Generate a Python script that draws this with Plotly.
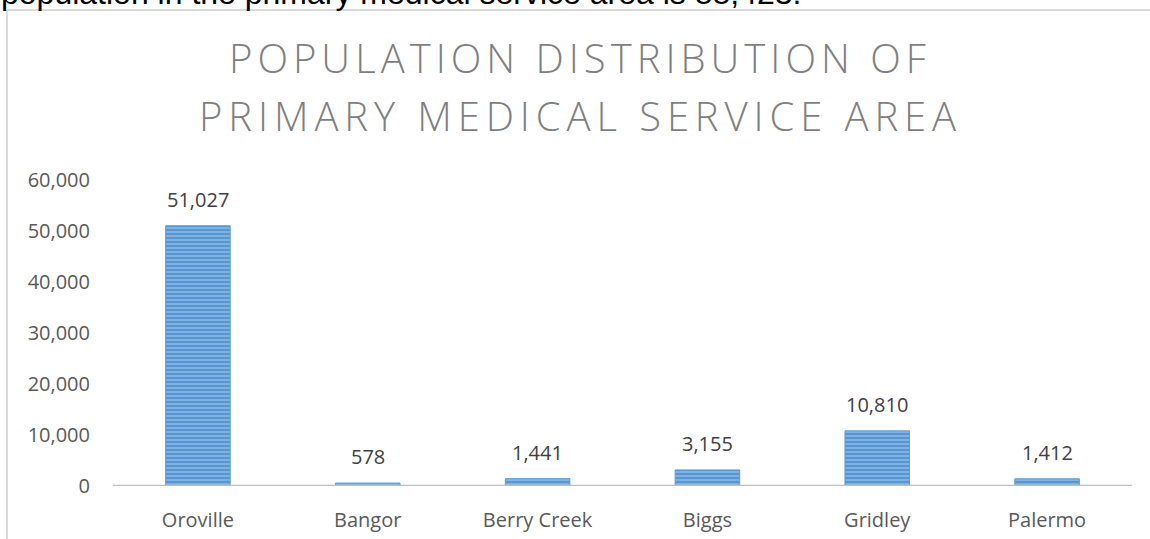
import plotly.graph_objects as go

# Population by community in the primary medical service area
towns = ["Oroville", "Bangor", "Berry Creek", "Biggs", "Gridley", "Palermo"]
population = [51027, 578, 1441, 3155, 10810, 1412]
y_ticks = [0, 10000, 20000, 30000, 40000, 50000, 60000]

W, H = 1150, 539
L, R, T, B = 113, 18, 180, 53
pw = W - L - R
ph = H - T - B


def px_x(p):
    return (p - L) / pw


def px_y(p):
    return (H - B - p) / ph


fig = go.Figure()
fig.add_trace(go.Bar(
    x=towns,
    y=population,
    marker=dict(
        color="#c6dcf2",
        line=dict(color="#5b9bd5", width=1),
        pattern=dict(shape="-", size=4, solidity=0.8, fgopacity=1,
                     fgcolor="#5596d4", bgcolor="#c6dcf2", fillmode="replace"),
    ),
    hoverinfo="x+y",
))

label_font = dict(family="Open Sans", size=20, color="#404040")
tick_font = dict(family="Open Sans", size=20, color="#595959")

annotations = []
# value labels above each bar
for t, v in zip(towns, population):
    annotations.append(dict(
        x=t, y=v, xref="x", yref="y", text=f"{v:,}", showarrow=False,
        yanchor="bottom", yshift=11, font=label_font,
    ))

# chart title, two lines, with widened letter spacing
title_font = dict(family="Open Sans", size=40, color="#7f7f7f", weight=300)
title_lines = [("POPULATION DISTRIBUTION OF", 87, 5), ("PRIMARY MEDICAL SERVICE AREA", 145, 5.9)]
for line, base, spacing in title_lines:
    annotations.append(dict(
        x=px_x(580), y=px_y(base), xref="paper", yref="paper",
        text=f'<span style="letter-spacing:{spacing}px">{line}</span>',
        showarrow=False, xanchor="center", yanchor="bottom", font=title_font,
    ))

# document line running above the chart frame
annotations.append(dict(
    x=px_x(-1), y=px_y(13), xref="paper", yref="paper",
    text="population in the primary medical service area is 88,423.",
    showarrow=False, xanchor="left", yanchor="bottom",
    font=dict(family="Liberation Sans", size=32, color="#000000"),
))

shapes = [
    # frame around the chart
    dict(type="line", xref="paper", yref="paper",
         x0=px_x(7), x1=px_x(W + 5), y0=px_y(10), y1=px_y(10),
         line=dict(color="#d9d9d9", width=2)),
    dict(type="line", xref="paper", yref="paper",
         x0=px_x(7), x1=px_x(7), y0=px_y(10), y1=px_y(H + 5),
         line=dict(color="#d9d9d9", width=2)),
    # category axis baseline
    dict(type="line", xref="paper", yref="y",
         x0=0, x1=1, y0=0, y1=0,
         line=dict(color="#bfbfbf", width=2.5)),
]

fig.update_layout(
    width=W, height=H,
    margin=dict(l=L, r=R, t=T, b=B, autoexpand=False),
    paper_bgcolor="white", plot_bgcolor="white",
    bargap=0.62,
    showlegend=False,
    annotations=annotations,
    shapes=shapes,
    xaxis=dict(
        showgrid=False, zeroline=False, showline=False, ticks="",
        ticklabelstandoff=20, tickfont=tick_font, automargin=False,
    ),
    yaxis=dict(
        range=[0, 60000], tickvals=y_ticks, tickformat=",d",
        showgrid=False, zeroline=False, showline=False, ticks="",
        ticklabelstandoff=22, tickfont=tick_font, automargin=False,
    ),
)

fig.write_html("out.html")
